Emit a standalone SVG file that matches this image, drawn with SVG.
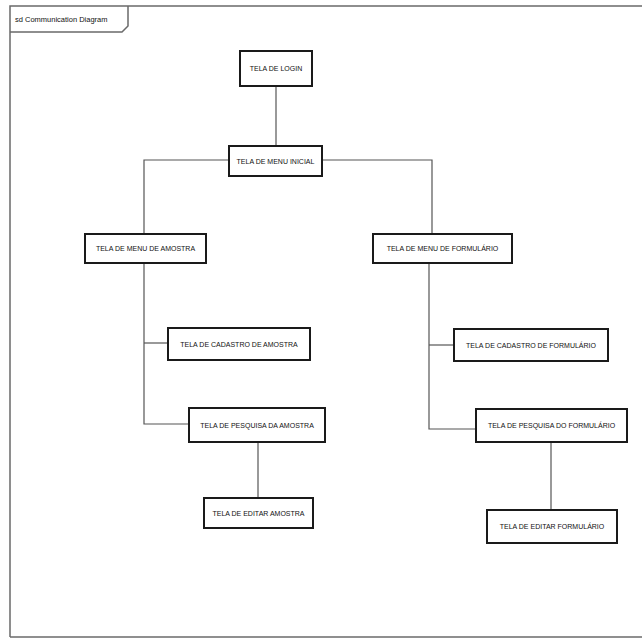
<svg xmlns="http://www.w3.org/2000/svg" width="642" height="639" viewBox="0 0 642 639">
<style>
.frame{fill:none;stroke:#6a6a6a;stroke-width:1.5}
.node rect{fill:#ffffff;stroke:#1a1a1a;stroke-width:2}
.node text{font-family:"Liberation Sans",Arial,sans-serif;font-size:7px;fill:#111;text-anchor:middle;dominant-baseline:central}
.conn{fill:none;stroke:#555;stroke-width:1.2}
.title{font-family:"Liberation Sans",Arial,sans-serif;font-size:7.5px;fill:#111}
</style>
<rect x="0" y="0" width="642" height="639" fill="#ffffff"/>
<g id="frame">
<path class="frame" d="M10,637 L10,6 L642,6"/>
<path class="frame" d="M10,637 L642,637"/>
<path class="frame" d="M10,32 L122,32 L128,26 L128,6"/>
<text class="title" x="15" y="22">sd Communication Diagram</text>
</g>
<g id="connectors">
<path class="conn" d="M276,86 L276,147"/>
<path class="conn" d="M229,160 L144,160 L144,234"/>
<path class="conn" d="M322,160 L432,160 L432,234"/>
<path class="conn" d="M144,263 L144,424 L189,424"/>
<path class="conn" d="M144,343 L168,343"/>
<path class="conn" d="M429,263 L429,429 L476,429"/>
<path class="conn" d="M429,345 L454,345"/>
<path class="conn" d="M258,442 L258,498"/>
<path class="conn" d="M551,442 L551,510"/>
</g>
<g id="login" class="node"><rect x="240" y="51" width="72" height="35"/><text x="276" y="68.5">TELA DE LOGIN</text></g>
<g id="menu-inicial" class="node"><rect x="229" y="146" width="93" height="30"/><text x="275.5" y="161">TELA DE MENU INICIAL</text></g>
<g id="menu-amostra" class="node"><rect x="85" y="234" width="121" height="29"/><text x="145.5" y="248.5">TELA DE MENU DE AMOSTRA</text></g>
<g id="menu-formulario" class="node"><rect x="373" y="234" width="139" height="29"/><text x="442.5" y="248.5">TELA DE MENU DE FORMULÁRIO</text></g>
<g id="cadastro-amostra" class="node"><rect x="168" y="328" width="142" height="32"/><text x="239" y="344">TELA DE CADASTRO DE AMOSTRA</text></g>
<g id="cadastro-formulario" class="node"><rect x="454" y="329" width="154" height="32"/><text x="531" y="345">TELA DE CADASTRO DE FORMULÁRIO</text></g>
<g id="pesquisa-amostra" class="node"><rect x="189" y="408" width="136" height="34"/><text x="257" y="425">TELA DE PESQUISA DA AMOSTRA</text></g>
<g id="pesquisa-formulario" class="node"><rect x="476" y="409" width="151" height="33"/><text x="551.5" y="425.5">TELA DE PESQUISA DO FORMULÁRIO</text></g>
<g id="editar-amostra" class="node"><rect x="204" y="498" width="109" height="30"/><text x="258.5" y="513">TELA DE EDITAR AMOSTRA</text></g>
<g id="editar-formulario" class="node"><rect x="487" y="510" width="130" height="33"/><text x="552" y="526.5">TELA DE EDITAR FORMULÁRIO</text></g>
</svg>
